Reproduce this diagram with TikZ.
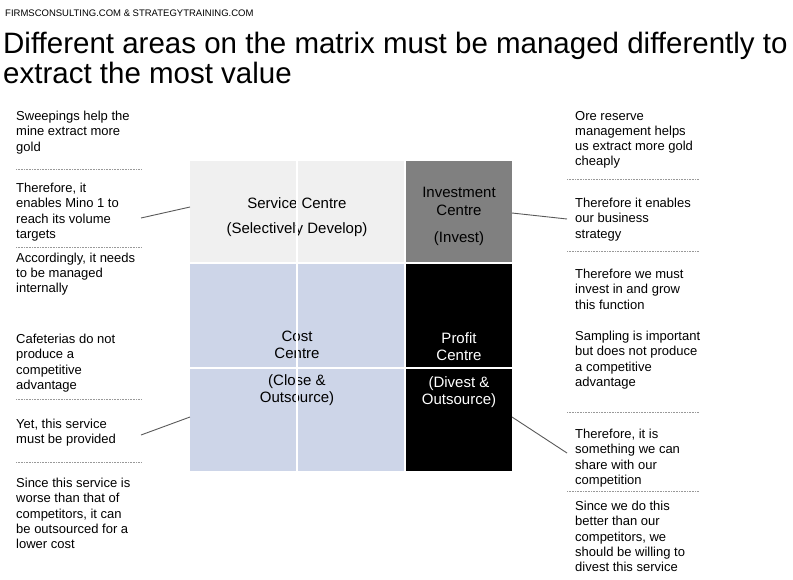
\documentclass[tikz,border=0pt]{standalone}
\usepackage{fontspec}
\setmainfont{Liberation Sans}
\definecolor{svcgray}{HTML}{F0F0F0}
\definecolor{invgray}{HTML}{808080}
\definecolor{costblue}{HTML}{CDD5E8}
\begin{document}
\begin{tikzpicture}[x=1pt,y=-1pt,
  txt/.style={anchor=north west,align=left,inner sep=0pt,font=\fontsize{13}{15.3}\selectfont,execute at begin node=\strut},
  ctxt/.style={anchor=north,align=center,inner sep=0pt,font=\fontsize{15}{17.5}\selectfont,execute at begin node=\strut},
  sep/.style={draw=gray!80,line width=0.7pt,dash pattern=on 0.7pt off 0.9pt},
  conn/.style={draw=black!65,line width=0.9pt},
  cell/.style={draw=none,inner sep=0pt,anchor=north west}]
\useasboundingbox (0,0) rectangle (793,579);
% header and title
\node[anchor=base west,inner sep=0pt,font=\fontsize{9.5}{11}\selectfont] (hdr) at (5,16.5) {FIRMSCONSULTING.COM \& STRATEGYTRAINING.COM};
\node[anchor=north west,align=left,inner sep=0pt,font=\fontsize{29.5}{30}\selectfont,execute at begin node=\strut] (title) at (3,32.3) {Different areas on the matrix must be managed differently to\\extract the most value};
% matrix cells
\node[cell,fill=svcgray,minimum width=214pt,minimum height=101pt] (svc) at (190,161) {};
\node[cell,fill=invgray,minimum width=106pt,minimum height=101pt] (inv) at (406,161) {};
\node[cell,fill=costblue,minimum width=214pt,minimum height=207pt] (cost) at (190,264) {};
\node[cell,fill=black,minimum width=106pt,minimum height=207pt] (prof) at (406,264) {};
% cell texts
\node[ctxt] (svct) at (297,196) {Service Centre};
\node[ctxt] (svcs) at (297,221) {(Selectively Develop)};
\node[ctxt] (invt) at (459,187) {Investment\\Centre};
\node[ctxt] (invs) at (459,230) {(Invest)};
\node[ctxt] (costt) at (297,330.5) {Cost\\Centre};
\node[ctxt] (costs) at (297,374) {(Close \&\\Outsource)};
\node[ctxt,text=white] (proft) at (459,332) {Profit\\Centre};
\node[ctxt,text=white] (profs) at (459,376) {(Divest \&\\Outsource)};
% white grid lines
\draw[white,line width=2pt] (svc.north) -- (cost.south);
\draw[white,line width=2pt] (cost.west) -- (prof.east);
% left texts
\node[txt] (l1) at (16,110.8) {Sweepings help the\\mine extract more\\gold};
\node[txt] (l2) at (16,182.8) {Therefore, it\\enables Mino 1 to\\reach its volume\\targets};
\node[txt] (l3) at (16,252.6) {Accordingly, it needs\\to be managed\\internally};
\node[txt] (l4) at (16,333.8) {Cafeterias do not\\produce a\\competitive\\advantage};
\node[txt] (l5) at (16,418.8) {Yet, this service\\must be provided};
\node[txt] (l6) at (16,477.8) {Since this service is\\worse than that of\\competitors, it can\\be outsourced for a\\lower cost};
% right texts
\node[txt] (r1) at (575,110.8) {Ore reserve\\management helps\\us extract more gold\\cheaply};
\node[txt] (r2) at (575,197.8) {Therefore it enables\\our business\\strategy};
\node[txt] (r3) at (575,268.8) {Therefore we must\\invest in and grow\\this function};
\node[txt] (r4) at (575,330.8) {Sampling is important\\but does not produce\\a competitive\\advantage};
\node[txt] (r5) at (575,428.8) {Therefore, it is\\something we can\\share with our\\competition};
\node[txt] (r6) at (575,500.8) {Since we do this\\better than our\\competitors, we\\should be willing to\\divest this service};
% dotted separators
\draw[sep] (16,169) -- (141,169);
\draw[sep] (16,247) -- (141,247);
\draw[sep] (16,399) -- (141,399);
\draw[sep] (16,462) -- (141,462);
\draw[sep] (567,179) -- (699,179);
\draw[sep] (567,251) -- (699,251);
\draw[sep] (567,412) -- (699,412);
\draw[sep] (567,491) -- (699,491);
% connectors
\coordinate (cl1) at (141,218);
\coordinate (cs1) at (190,207);
\coordinate (cl2) at (141,435);
\coordinate (cs2) at (190,417);
\coordinate (cr1) at (567,219);
\coordinate (ci1) at (512,213);
\coordinate (cr2) at (567,453);
\coordinate (cp2) at (512,417);
\draw[conn] (cl1) -- (cs1);
\draw[conn] (cl2) -- (cs2);
\draw[conn] (ci1) -- (cr1);
\draw[conn] (cp2) -- (cr2);
\end{tikzpicture}
\end{document}
